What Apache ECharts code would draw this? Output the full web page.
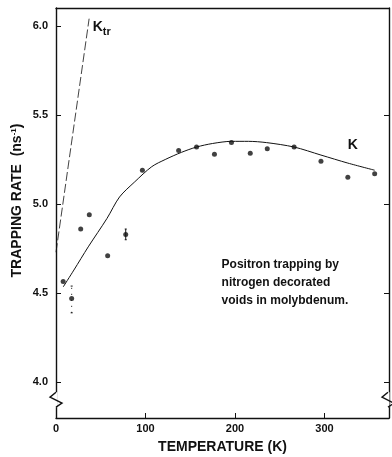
<!DOCTYPE html>
<html>
<head>
<meta charset="utf-8">
<script src="https://cdn.jsdelivr.net/npm/echarts@6/dist/echarts.min.js"></script>
<style>
html,body{margin:0;padding:0;background:#fff}
#chart{width:392px;height:457px}
</style>
</head>
<body>
<div id="chart"></div>
<script>
// measured points (temperature K, trapping rate ns^-1)
var ptT = [8, 17.5, 27.6, 37.2, 57.7, 77.9, 96.5, 137, 157, 177, 196, 217, 236, 266, 296, 326, 356];
var ptK = [4.566, 4.47, 4.86, 4.94, 4.71, 4.83, 5.19, 5.30, 5.32, 5.28, 5.345, 5.285, 5.31, 5.32, 5.24, 5.15, 5.17];

// error bars
var errT = [17.5, 77.9];
var errLo = [4.39, 4.80];
var errHi = [4.54, 4.86];

// fitted curve K
var curveT = [8, 20, 36, 57, 71, 88, 107, 122, 140, 157, 175, 196, 215, 235, 266, 296, 326, 356];
var curveK = [4.535, 4.63, 4.76, 4.92, 5.04, 5.125, 5.21, 5.25, 5.29, 5.32, 5.34, 5.352, 5.352, 5.345, 5.32, 5.275, 5.23, 5.19];

// K_tr line
var ktrT = [0, 37];
var ktrK = [4.73, 6.04];

var xLabels = [0, 100, 200, 300];
var yLabels = [4.0, 4.5, 5.0, 5.5, 6.0];

var FONT = 'Liberation Sans';
var INK = '#111';

function pairs(a, b) {
    return a.map(function (v, i) { return [v, b[i]]; });
}

var chart = echarts.init(document.getElementById('chart'));

var frameLine = {show: true, onZero: false, lineStyle: {color: INK, width: 1.4}};

var option = {
    animation: false,
    grid: {left: 56, right: 3, top: 8, bottom: 39, outerBoundsMode: 'none', containLabel: false},
    xAxis: [{
        type: 'value',
        min: 0,
        max: 372,
        position: 'bottom',
        axisLine: frameLine,
        axisTick: {inside: true, length: 5, customValues: [100, 200, 300], lineStyle: {color: INK}},
        axisLabel: {customValues: xLabels, color: INK, fontFamily: FONT, fontWeight: 'bold', fontSize: 11, margin: 5},
        splitLine: {show: false},
        name: 'TEMPERATURE (K)',
        nameLocation: 'middle',
        nameGap: 22,
        nameTextStyle: {color: INK, fontFamily: FONT, fontWeight: 'bold', fontSize: 14}
    }, {
        type: 'value',
        min: 0,
        max: 372,
        position: 'top',
        axisLine: frameLine,
        axisTick: {show: false},
        axisLabel: {show: false},
        splitLine: {show: false}
    }],
    yAxis: [{
        type: 'value',
        min: 3.8,
        max: 6.1,
        position: 'left',
        axisLine: frameLine,
        axisTick: {inside: true, length: 5, customValues: yLabels, lineStyle: {color: INK}},
        axisLabel: {
            customValues: yLabels,
            formatter: function (v) { return v.toFixed(1); },
            color: INK, fontFamily: FONT, fontWeight: 'bold', fontSize: 11, margin: 8
        },
        splitLine: {show: false}
    }, {
        type: 'value',
        min: 3.8,
        max: 6.1,
        position: 'right',
        axisLine: frameLine,
        axisTick: {inside: true, length: 5, customValues: [4.0, 4.5, 5.0, 5.5], lineStyle: {color: INK}},
        axisLabel: {show: false},
        splitLine: {show: false}
    }],
    series: [{
        type: 'line',
        data: pairs(ktrT, ktrK),
        showSymbol: false,
        lineStyle: {color: INK, width: 0.8, type: [9, 3]},
        z: 2
    }, {
        type: 'line',
        data: pairs(curveT, curveK),
        smooth: 0.3,
        showSymbol: false,
        lineStyle: {color: INK, width: 1},
        z: 2
    }, {
        type: 'custom',
        data: errT.map(function (t, i) { return [t, errLo[i], errHi[i]]; }),
        renderItem: function (params, api) {
            var lo = api.coord([api.value(0), api.value(1)]);
            var hi = api.coord([api.value(0), api.value(2)]);
            // long bar is only faint specks in the print
            var st = {stroke: INK, lineWidth: 1, lineDash: (lo[1] - hi[1] > 15) ? [1, 5] : null};
            var cap = {stroke: INK, lineWidth: 1};
            return {
                type: 'group',
                children: [
                    {type: 'line', shape: {x1: lo[0], y1: lo[1], x2: hi[0], y2: hi[1]}, style: st},
                    {type: 'line', shape: {x1: lo[0] - 1, y1: lo[1], x2: lo[0] + 1, y2: lo[1]}, style: cap},
                    {type: 'line', shape: {x1: hi[0] - 1, y1: hi[1], x2: hi[0] + 1, y2: hi[1]}, style: cap}
                ]
            };
        },
        z: 3
    }, {
        type: 'scatter',
        data: pairs(ptT, ptK),
        symbol: 'circle',
        symbolSize: 5,
        itemStyle: {color: INK},
        z: 4
    }]
};

chart.setOption(option);

// labels and axis-break marks placed from data coordinates
var pK = chart.convertToPixel({gridIndex: 0}, [326, 5.33]);
var pKtr = chart.convertToPixel({gridIndex: 0}, [41, 5.99]);
var pBrkL = chart.convertToPixel({gridIndex: 0}, [0, 3.9]);
var pBrkR = chart.convertToPixel({gridIndex: 0}, [372, 3.9]);
var pNote = chart.convertToPixel({gridIndex: 0}, [185, 4.56]);
var pMid = chart.convertToPixel({gridIndex: 0}, [0, 5.02]);

function zig(x, y, dir) {
    return [
        {type: 'rect', shape: {x: x - 1.5, y: y - 8, width: 3, height: 15}, style: {fill: '#fff'}, z: 10},
        {type: 'polyline', shape: {points: [[x, y - 8], [x - 6 * dir, y - 3], [x + 6 * dir, y + 3], [x, y + 7]]},
            style: {stroke: INK, lineWidth: 1.4, fill: null}, z: 11}
    ];
}

chart.setOption({
    graphic: [].concat(zig(pBrkL[0], pBrkL[1], 1), zig(pBrkR[0] - 1, pBrkR[1], 1), [{
        type: 'text', x: pK[0], y: pK[1],
        style: {text: 'K', fill: INK, font: 'bold 14px ' + FONT, align: 'left', verticalAlign: 'middle'}
    }, {
        type: 'text', x: pKtr[0], y: pKtr[1],
        style: {
            text: '{a|K}{b|tr}',
            align: 'left', verticalAlign: 'middle',
            rich: {
                a: {fill: INK, fontFamily: FONT, fontWeight: 'bold', fontSize: 14},
                b: {fill: INK, fontFamily: FONT, fontWeight: 'bold', fontSize: 11, padding: [8, 0, 0, 0]}
            }
        }
    }, {
        type: 'text', x: pNote[0], y: pNote[1],
        style: {
            text: 'Positron trapping by\nnitrogen decorated\nvoids in molybdenum.',
            fill: INK, font: 'bold 12px ' + FONT, lineHeight: 18,
            align: 'left', verticalAlign: 'middle'
        }
    }, {
        type: 'text', x: 17, y: pMid[1],
        rotation: Math.PI / 2,
        style: {
            text: '{a|TRAPPING RATE  (ns}{s|-1}{a|)}',
            align: 'center', verticalAlign: 'middle',
            rich: {
                a: {fill: INK, fontFamily: FONT, fontWeight: 'bold', fontSize: 14},
                s: {fill: INK, fontFamily: FONT, fontWeight: 'bold', fontSize: 8, padding: [0, 0, 7, 0]}
            }
        }
    }])
});
</script>
</body>
</html>
